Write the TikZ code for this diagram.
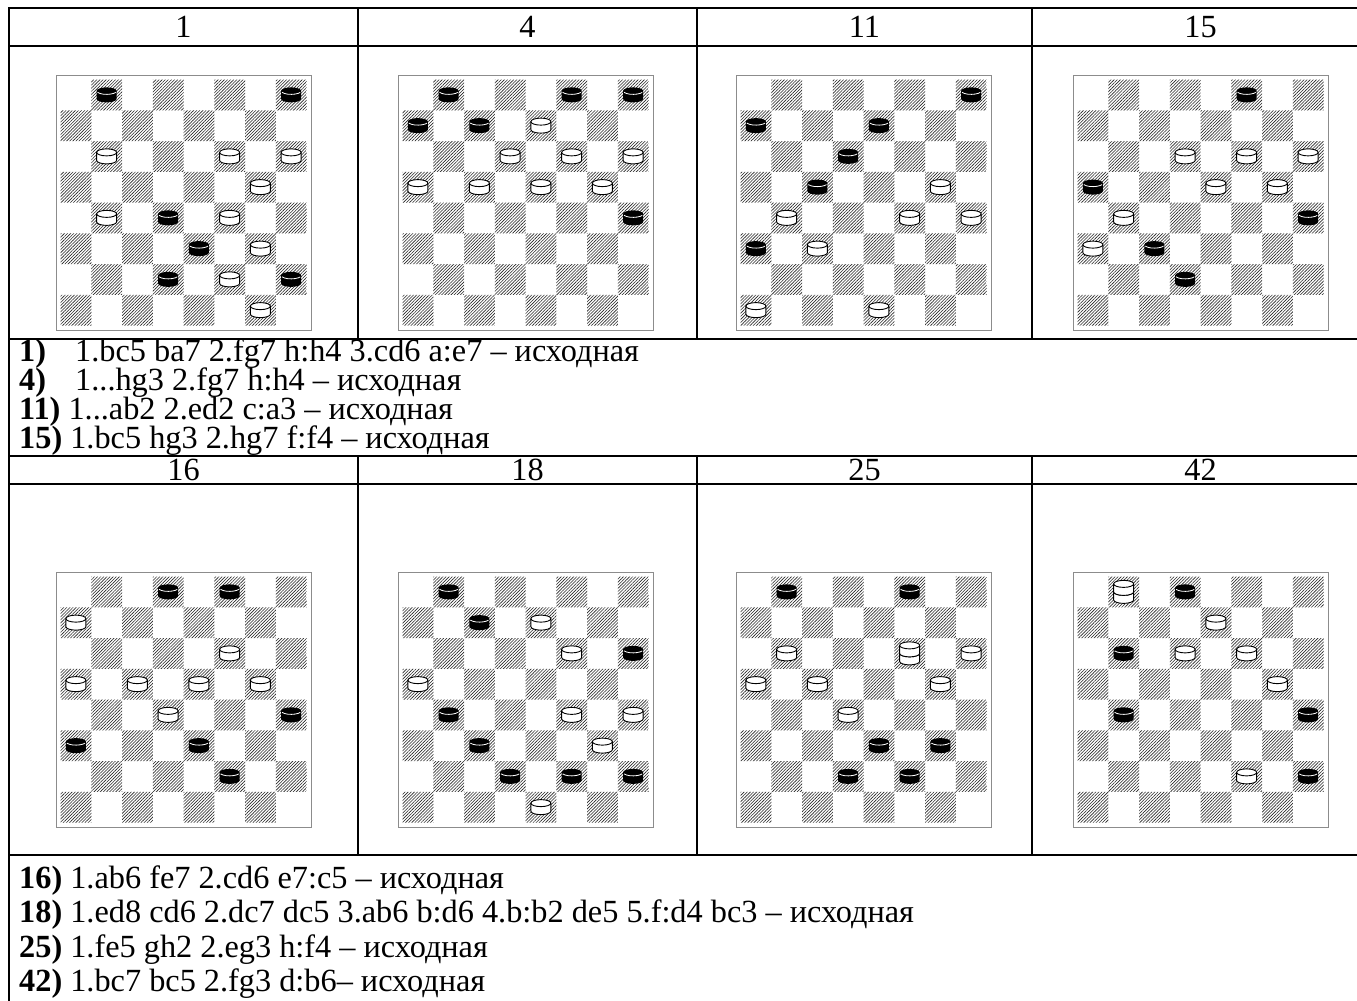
\documentclass[tikz,border=0pt]{standalone}
\usepackage{fontspec}
\setmainfont{Liberation Serif}
\usetikzlibrary{patterns.meta}

\newcommand\whitemanshape{%
  \filldraw[fill=white,draw=black,line width=0.9pt] (-10pt,4pt) -- (-10pt,-4pt)
     arc[start angle=180,end angle=360,x radius=10pt,y radius=3.5pt] -- (10pt,4pt)
     arc[start angle=0,end angle=180,x radius=10pt,y radius=3.5pt] -- cycle;
  \draw[line width=0.9pt] (-10pt,4pt) arc[start angle=180,end angle=360,x radius=10pt,y radius=3.5pt];}
\newcommand\blackmanshape{%
  \fill[black] (-10pt,4pt) -- (-10pt,-4pt)
     arc[start angle=180,end angle=360,x radius=10pt,y radius=3.5pt] -- (10pt,4pt)
     arc[start angle=0,end angle=180,x radius=10pt,y radius=3.5pt] -- cycle;
  \draw[white,line width=0.8pt] ([shift={(0,4pt)}]205:10pt and 3.5pt) arc[start angle=205,end angle=335,x radius=10pt,y radius=3.5pt];}

\tikzset{
  tbl/.style={line width=2pt},
  frm/.style={draw=black!45,line width=1pt},
  hatch/.style={pattern={Lines[angle=45,distance=2.2pt,line width=0.6pt]},pattern color=black!85},
  lbl/.style={font=\fontsize{32.3pt}{36pt}\selectfont,inner sep=0pt},
  txt/.style={font=\fontsize{32.3pt}{36pt}\selectfont,anchor=base west,inner sep=0pt},
  pics/manw/.style={code={\whitemanshape}},
  pics/manb/.style={code={\blackmanshape}},
  pics/kingw/.style={code={\begin{scope}[yshift=-4pt]\whitemanshape\end{scope}\begin{scope}[yshift=4pt]\whitemanshape\end{scope}}},
}

% #1 x of frame left, #2 y of frame top (downwards), #3 black men, #4 white men
\newcommand\chkboard[4]{%
  \begin{scope}[shift={(#1,-#2)}]
    \path[hatch] \foreach \r in {0,...,7} { \foreach \k [evaluate=\k as \c using {2*\k+mod(\r+1,2)}] in {0,...,3} { ({4.5+\c*30.75},{-4.5-\r*30.75}) rectangle ++(30.75,-30.75) } };
    \draw[frm] (0,0) rectangle (255,-255);
    \foreach \c/\n in {#3} \pic at ({4.5+(\c+0.5)*30.75},{-4.5-(8.5-\n)*30.75}) {manb};
    \foreach \c/\n in {#4} \pic at ({4.5+(\c+0.5)*30.75},{-4.5-(8.5-\n)*30.75}) {manw};
  \end{scope}}
\newcommand\chkking[4]{\pic at ({#1+4.5+(#3+0.5)*30.75},{-#2-4.5-(8.5-#4)*30.75}) {kingw};}

\begin{document}
\begin{tikzpicture}[x=1pt,y=1pt]
\useasboundingbox (0,0) rectangle (1357,-1001);
\fill[white] (0,0) rectangle (1357,-1001);

% table lines
\draw[tbl] (9,-8) -- (1369,-8);
\draw[tbl] (9,-46) -- (1369,-46);
\draw[tbl] (9,-339) -- (1369,-339);
\draw[tbl] (9,-455.5) -- (1369,-455.5);
\draw[tbl] (9,-484) -- (1369,-484);
\draw[tbl] (9,-855) -- (1369,-855);
\draw[tbl] (9,-7) -- (9,-1010);
\draw[tbl] (1369,-7) -- (1369,-1010);
\foreach \x in {358,697,1032} {
  \draw[tbl] (\x,-8) -- (\x,-339);
  \draw[tbl] (\x,-455.5) -- (\x,-855);
}

% headers
\node[lbl] (h1)  at (183.5,-27) {1};
\node[lbl] (h4)  at (527.5,-27) {4};
\node[lbl] (h11) at (864.5,-27) {11};
\node[lbl] (h15) at (1200.5,-27) {15};
\node[lbl] (h16) at (183.5,-469.5) {16};
\node[lbl] (h18) at (527.5,-469.5) {18};
\node[lbl] (h25) at (864.5,-469.5) {25};
\node[lbl] (h42) at (1200.5,-469.5) {42};

% boards, row 1
\chkboard{56}{75}{1/8,7/8,3/4,4/3,3/2,7/2}{1/6,5/6,7/6,6/5,1/4,5/4,6/3,5/2,6/1}
\chkboard{398}{75}{1/8,5/8,7/8,0/7,2/7,7/4}{4/7,3/6,5/6,7/6,0/5,2/5,4/5,6/5}
\chkboard{736}{75}{7/8,0/7,4/7,3/6,2/5,0/3}{6/5,1/4,5/4,7/4,2/3,0/1,4/1}
\chkboard{1073}{75}{5/8,0/5,7/4,2/3,3/2}{3/6,5/6,7/6,4/5,6/5,1/4,0/3}
% boards, row 2
\chkboard{56}{572}{3/8,5/8,7/4,0/3,4/3,5/2}{0/7,5/6,0/5,2/5,4/5,6/5,3/4}
\chkboard{398}{572}{1/8,2/7,7/6,1/4,2/3,3/2,5/2,7/2}{4/7,5/6,0/5,5/4,7/4,6/3,4/1}
\chkboard{736}{572}{1/8,5/8,4/3,6/3,3/2,5/2}{1/6,7/6,0/5,2/5,6/5,3/4}
\chkking{736}{572}{5}{6}
\chkboard{1073}{572}{3/8,1/6,1/4,7/4,7/2}{4/7,3/6,5/6,6/5,5/2}
\chkking{1073}{572}{1}{8}

% solutions, block 1
\node[txt] (s1)  at (19,-361.5) {\makebox[56pt][l]{\textbf{1)}}1.bc5 ba7 2.fg7 h:h4 3.cd6 a:e7 – исходная};
\node[txt] (s4)  at (19,-390.5) {\makebox[56pt][l]{\textbf{4)}}1...hg3 2.fg7 h:h4 – исходная};
\node[txt] (s11) at (19,-419.5) {\textbf{11)} 1...ab2 2.ed2 c:a3 – исходная};
\node[txt] (s15) at (19,-448.5) {\textbf{15)} 1.bc5 hg3 2.hg7 f:f4 – исходная};
% solutions, block 2
\node[txt] (s16) at (19,-888) {\textbf{16)} 1.ab6 fe7 2.cd6 e7:c5 – исходная};
\node[txt] (s18) at (19,-922.5) {\textbf{18)} 1.ed8 cd6 2.dc7 dc5 3.ab6 b:d6 4.b:b2 de5 5.f:d4 bc3 – исходная};
\node[txt] (s25) at (19,-957) {\textbf{25)} 1.fe5 gh2 2.eg3 h:f4 – исходная};
\node[txt] (s42) at (19,-991.5) {\textbf{42)} 1.bc7 bc5 2.fg3 d:b6– исходная};
\end{tikzpicture}
\end{document}
